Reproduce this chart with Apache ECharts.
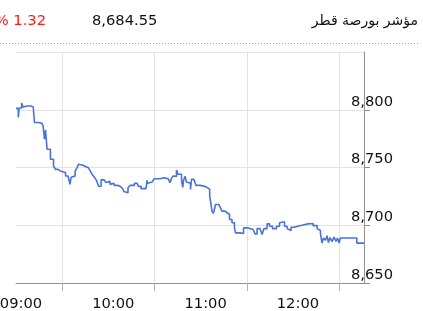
<!DOCTYPE html>
<html><head><meta charset="utf-8">
<script src="https://cdn.jsdelivr.net/npm/echarts@6/dist/echarts.min.js"></script>
<style>html,body{margin:0;padding:0;background:#fff;overflow:hidden}#c{width:423px;height:311px}</style>
</head><body><div id="c"></div>
<script>
const indexName = 'مؤشر بورصة قطر';
const lastValue = '8,684.55';
const changeText = '% 1.32';

// minutes since 09:00
const minutes = [30,31,31.5,32,33.7,34.6,35.9,37.2,38.5,39.8,
41.2,42,44.3,46.7,47.6,48.5,49.2,50.2,51.5,52.4,
53.4,54.4,55.7,57.3,59.3,60.6,62.2,63.8,65.1,65.8,
67.1,68.4,69.7,70.6,71.9,73.6,75.5,77.1,78.4,79.7,
81,82.3,83.6,84.6,85.3,87.2,88.5,89.8,91.1,92.4,
93.7,95.7,97.3,98.9,100.2,101.5,102.8,104.1,105.4,107,
108.7,109.6,111.3,114.5,115.2,115.6,116.5,118.4,119.7,121.7,
123.6,126.2,127.5,128.8,130.1,131.1,132.1,133.4,134.3,135.3,
136.6,137.6,138.4,138.9,139.9,140.8,141.8,143.4,144.1,145.7,
147,149.6,152.2,154.5,155.9,156.6,157.4,158.2,158.7,159.7,
161,161.8,162.9,163.9,165.7,167.2,168.8,170.4,172,172.7,
175.6,177.9,180.8,182.1,184.1,185.4,186.7,188.6,189.9,191.2,
193.2,194.8,196.7,199.3,201.3,202.6,204.5,206.2,207.1,208.8,
211,213,215.9,219.8,223.1,225.7,226.6,227.9,228.9,229.9,
231.2,232.2,233.1,234.1,235.4,236.7,238,239,240,240.9,
251.5,256.2];

const values = [8801.2,8801.2,8793.4,8801.5,8805.8,8802.4,8803.2,8801.9,8803.2,8802.4,
8802.4,8789.0,8788.4,8788.4,8786.1,8774.5,8782.4,8765.8,8765.8,8757.1,
8757.1,8751.3,8748.4,8746.7,8747.6,8745.6,8742.6,8742.6,8735.4,8741.5,
8742.6,8746.7,8749.9,8752.8,8751.9,8750.6,8749.7,8748.0,8746.7,8743.7,
8741.5,8738.9,8733.9,8733.7,8739.3,8739.1,8737.1,8738.0,8735.4,8736.3,
8734.5,8734.1,8732.4,8731.0,8729.3,8728.2,8732.4,8734.5,8734.5,8736.3,
8735.4,8733.7,8731.7,8731.7,8738.9,8736.3,8737.4,8737.5,8740.2,8740.3,
8741.2,8741.2,8740.3,8740.6,8736.9,8740.6,8742.6,8742.3,8747.8,8744.1,
8744.1,8739.1,8732.8,8738.9,8742.3,8737.4,8736.3,8731.0,8739.7,8738.3,
8734.5,8733.9,8732.5,8731.0,8725.2,8719.5,8712.2,8710.2,8712.2,8718.0,
8718.0,8719.5,8715.1,8712.2,8710.8,8709.3,8705.0,8702.1,8697.7,8693.4,
8692.8,8697.7,8698.3,8696.3,8696.3,8692.5,8697.1,8695.4,8691.9,8697.1,
8701.2,8699.1,8697.1,8699.1,8702.1,8703.0,8699.1,8697.1,8695.4,8698.3,
8699.1,8700.0,8701.2,8701.5,8699.7,8697.1,8695.4,8692.8,8684.7,8689.0,
8687.0,8691.0,8685.0,8689.3,8685.8,8689.7,8686.1,8688.9,8684.7,8689.0,
8684.55,8684.55];

const xTickValues = [60, 120, 180, 240];
const xTickLabels = ['09:00', '10:00', '11:00', '12:00'];
const xMin = 30, xMax = 256.2;
const yMin = 8650, yMax = 8850, yStep = 50;

const FONT = 'DejaVu Sans';
const FS = 14.7;

const chart = echarts.init(document.getElementById('c'), null, {renderer: 'canvas'});
chart.setOption({
  animation: false,
  backgroundColor: '#ffffff',
  grid: {left: 16, right: 59, top: 52, bottom: 28, containLabel: false, outerBoundsMode: 'none'},
  xAxis: {
    type: 'value', min: xMin, max: xMax,
    axisLine: {show: true, lineStyle: {color: '#909090', width: 1}},
    axisTick: {show: true, length: 8, customValues: xTickValues, lineStyle: {color: '#b0b0b0'}},
    splitLine: {show: true, lineStyle: {color: '#e3e3e3', width: 1}},
    axisLabel: {
      customValues: xTickValues,
      formatter: v => xTickLabels[xTickValues.indexOf(v)] || '',
      align: 'right', padding: [0, 20, 0, 0], margin: 14,
      color: '#111', fontFamily: FONT, fontSize: FS
    }
  },
  yAxis: {
    type: 'value', position: 'right', min: yMin, max: yMax, interval: yStep,
    axisLine: {show: true, lineStyle: {color: '#909090', width: 1}},
    axisTick: {show: true, inside: false, length: 6, lineStyle: {color: '#909090'}},
    splitLine: {show: true, lineStyle: {color: '#e3e3e3', width: 1}},
    axisLabel: {
      showMaxLabel: false,
      formatter: v => v.toLocaleString('en-US'),
      align: 'left', verticalAlign: 'bottom', margin: -13, lineHeight: 16,
      color: '#111', fontFamily: FONT, fontSize: FS
    }
  },
  series: [{
    type: 'line', step: 'end', showSymbol: false, symbol: 'none',
    data: minutes.map((m, i) => [m, values[i]]),
    lineStyle: {color: '#4a73d6', width: 1.6},
    itemStyle: {color: '#4a73d6'}
  }],
  graphic: [
    {type: 'text', x: 46, y: 21, style: {text: changeText, fill: '#ff1a1a', font: FS + 'px "' + FONT + '"', textAlign: 'right', textVerticalAlign: 'middle'}},
    {type: 'text', x: 92, y: 21, style: {text: lastValue, fill: '#111', font: FS + 'px "' + FONT + '"', textAlign: 'left', textVerticalAlign: 'middle'}},
    {type: 'text', x: 418, y: 21, style: {text: indexName, fill: '#111', font: '14px "' + FONT + '"', textAlign: 'right', textVerticalAlign: 'middle'}},
    {type: 'line', shape: {x1: 0, y1: 43.5, x2: 419, y2: 43.5}, style: {stroke: '#a8a8a8', lineWidth: 1, lineDash: [1, 2]}}
  ]
});
</script></body></html>
